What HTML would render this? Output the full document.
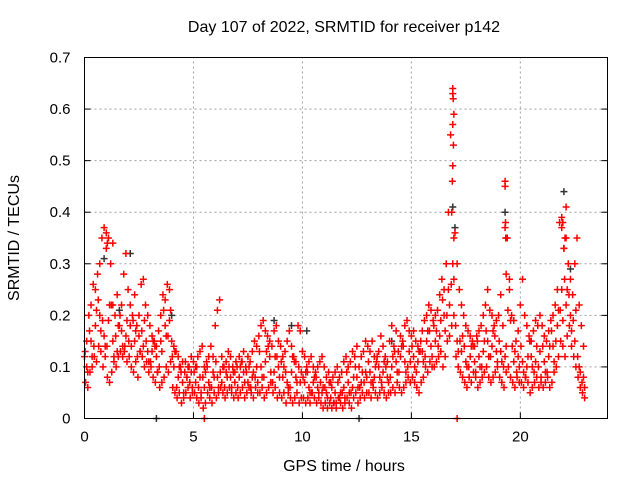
<!DOCTYPE html>
<html><head><meta charset="utf-8"><style>
body{margin:0;background:#fff}
svg text{font-family:"Liberation Sans",sans-serif;font-size:15px;fill:#000}
svg text.t{font-size:16px}
</style></head><body>
<svg id="chart" width="640" height="480" xmlns="http://www.w3.org/2000/svg">
<rect width="640" height="480" fill="#fff"/>
<text class="t" x="344" y="32" text-anchor="middle">Day 107 of 2022, SRMTID for receiver p142</text>
<text class="t" transform="translate(19,238) rotate(-90)" text-anchor="middle">SRMTID / TECUs</text>
<text class="t" x="344" y="471" text-anchor="middle">GPS time / hours</text>
<g id="grid"></g>
<g id="ticks"></g>
<g id="marks"></g>
<rect x="84.5" y="57.5" width="523" height="361" fill="none" stroke="#000" stroke-width="1"/>
</svg>
<script>
const xTicks=[0,5,10,15,20];
const yTicks=[0,0.1,0.2,0.3,0.4,0.5,0.6,0.7];
const yTickLabels=["0","0.1","0.2","0.3","0.4","0.5","0.6","0.7"];
const startHour=0, stepA=0.1, stepC=0.2;
const highVals=[.12,.15,.20,.22,.26,.25,.28,.30,.35,.37, .33,.35,.30,.22,.20,.24,.18,.22,.28,.32, .25,.22,.20,.24,.18,.20,.26,.27,.22,.20, .18,.16,.15,.14,.17,.20,.24,.23,.26,.25, .15,.14,.13,.12,.10,.11,.09,.08,.10,.12, .11,.10,.12,.13,.14,.10,.11,.12,.14,.12, .18,.21,.23,.12,.10,.11,.13,.12,.10,.09, .10,.12,.11,.13,.10,.12,.11,.13,.15,.14, .16,.18,.19,.17,.16,.15,.14,.17,.18,.15, .14,.12,.13,.15,.17,.14,.12,.11,.18,.17, .13,.12,.10,.11,.12,.10,.09,.10,.11,.12, .10,.08,.09,.07,.08,.09,.10,.08,.09,.11, .12,.10,.11,.13,.12,.14,.10,.12,.13,.15, .14,.13,.15,.12,.11,.13,.16,.14,.12,.11, .15,.18,.14,.17,.13,.16,.15,.18,.19,.17, .16,.17,.15,.14,.13,.17,.19,.20,.22,.21, .19,.20,.21,.24,.27,.25,.30,.40,.55,.64, .36,.30,.25,.22,.20,.18,.17,.16,.15,.14, .16,.17,.18,.20,.22,.25,.21,.20,.18,.19, .20,.24,.18,.46,.35,.27,.20,.19,.15,.17, .22,.27,.20,.18,.16,.15,.17,.19,.18,.20, .18,.16,.15,.17,.19,.20,.22,.25,.38,.37, .33,.35,.30,.27,.24,.30,.35,.22,.18,.14];
const lowVals=[.07,.06,.09,.10,.12,.11,.14,.13,.10,.12, .08,.07,.09,.11,.10,.12,.13,.12,.14,.11, .12,.10,.09,.11,.08,.13,.12,.10,.11,.09, .10,.08,.07,.09,.06,.07,.08,.10,.09,.11, .06,.05,.04,.05,.03,.04,.05,.06,.04,.05, .05,.04,.03,.04,.02,.03,.05,.04,.03,.05, .04,.05,.06,.05,.04,.05,.06,.05,.04,.05, .04,.05,.06,.04,.05,.06,.05,.04,.06,.05, .05,.06,.04,.05,.06,.07,.05,.06,.04,.05, .04,.05,.03,.05,.04,.03,.04,.05,.03,.04, .04,.03,.04,.03,.05,.04,.03,.04,.03,.02, .03,.02,.03,.02,.03,.02,.04,.03,.02,.03, .04,.03,.02,.04,.05,.03,.04,.05,.04,.05, .05,.04,.06,.05,.04,.05,.06,.05,.04,.05, .05,.06,.05,.07,.06,.05,.06,.07,.08,.07, .08,.07,.06,.05,.07,.08,.10,.09,.11,.10, .10,.11,.12,.13,.10,.12,.15,.16,.18,.20, .12,.10,.09,.08,.07,.06,.08,.07,.09,.08, .06,.07,.08,.09,.10,.08,.07,.08,.09,.10, .08,.07,.06,.09,.10,.08,.07,.06,.08,.07, .07,.06,.08,.07,.05,.06,.07,.08,.06,.07, .06,.07,.08,.06,.07,.09,.10,.12,.15,.14, .12,.16,.18,.14,.12,.10,.08,.06,.05,.04];
const midVals=[.10,.15,.18,.20,.16, .19,.15,.13,.17,.16, .18,.15,.16,.14,.13, .13,.12,.15,.18,.19, .10,.08,.07,.08,.09, .07,.08,.06,.07,.09, .08,.07,.09,.08,.07, .08,.09,.07,.08,.10, .10,.11,.12,.09,.10, .08,.07,.09,.08,.07, .07,.06,.07,.06,.05, .05,.04,.05,.04,.06, .07,.06,.08,.07,.09, .09,.08,.10,.09,.08, .10,.11,.12,.11,.13, .12,.11,.13,.15,.14, .15,.16,.20,.25,.30, .15,.13,.11,.12,.11, .12,.13,.15,.14,.13, .13,.12,.25,.11,.12, .11,.10,.12,.11,.13, .11,.12,.14,.18,.25, .22,.20,.15,.10,.08];
const mid2Vals=[.13,.17,.14,.23,.19, .14,.22,.16,.20,.13, .15,.19,.12,.17,.15, .11,.14,.10,.21,.16, .12,.06,.09,.11,.07, .09,.06,.08,.10,.06, .11,.09,.06,.10,.09, .06,.11,.09,.06,.08, .13,.08,.14,.07,.12, .11,.09,.06,.11,.10, .08,.09,.05,.08,.07, .06,.07,.03,.07,.05, .09,.05,.10,.06,.07, .11,.07,.12,.07,.10, .08,.13,.09,.14,.10, .14,.09,.15,.12,.17, .18,.14,.23,.20,.26, .18,.15,.14,.10,.14, .15,.10,.17,.12,.16, .15,.10,.21,.14,.09, .14,.08,.15,.09,.10, .14,.09,.17,.15,.21, .27,.24,.19,.12,.07];
const mid3Vals=[.09,.12,.21,.17,.14, .22,.12,.18,.14,.19, .14,.17,.13,.19,.11, .15,.09,.13,.16,.21, .13,.10,.05,.10,.06, .10,.05,.09,.06,.08, .06,.10,.08,.06,.11, .10,.07,.10,.09,.07, .08,.13,.09,.12,.08, .10,.06,.12,.07,.09, .09,.05,.08,.05,.06, .04,.06,.03,.05,.04, .05,.08,.06,.09,.08, .07,.10,.08,.11,.07, .12,.09,.14,.09,.11, .10,.13,.11,.17,.12, .17,.19,.17,.22,.27, .13,.16,.10,.14,.09, .10,.15,.12,.17,.11, .11,.14,.19,.13,.10, .09,.12,.10,.14,.08, .09,.14,.11,.21,.19, .25,.17,.21,.09,.06];
const spikeTimes=[16.9,16.92,16.95,16.9,16.93,16.9,16.88,16.85,16.95,19.3,19.32,19.3,19.33,19.35,21.9,21.95,22.0,22.05,22.1,1.0,1.05,1.3];
const spikeVals=[.63,.62,.59,.57,.53,.49,.46,.40,.35,.45,.38,.37,.35,.28,.39,.38,.33,.35,.41,.36,.34,.34];
const grayTimes=[0.9,1.6,2.1,3.3,4.0,8.7,9.5,12.6,16.9,17.0,19.3,22.0,22.3,10.2,14.1];
const grayVals=[.31,.21,.32,0,.20,.19,.18,0,.41,.37,.40,.44,.29,.17,.15];
const zeroTimes=[5.5,17.1];
const zeroVals=[0,0];

const X0=84.5,X1=607.5,Y0=418.5,Y1=57.5;
const xs=h=>X0+(h-0)/24*(X1-X0);
const ys=v=>Y0-(v-0)/0.7*(Y0-Y1);
const NS="http://www.w3.org/2000/svg";
const grid=document.getElementById('grid'),ticks=document.getElementById('ticks'),marks=document.getElementById('marks');
function mk(tag,attrs,parent){const e=document.createElementNS(NS,tag);for(const k in attrs)e.setAttribute(k,attrs[k]);parent.appendChild(e);return e;}
xTicks.forEach(t=>{const x=xs(t);
 if(t>0){const g=mk('line',{x1:x,y1:Y0,x2:x,y2:Y1,stroke:'#a0a0a0','stroke-dasharray':'2,3'},grid);
 
 }
 const tl=mk('line',{x1:x,y1:Y0,x2:x,y2:Y0-6,stroke:'#000'},ticks);
 
 
 const tx=mk('text',{x:x,y:Y0+23,'text-anchor':'middle'},ticks);tx.textContent=t;
 
 
});
yTicks.forEach((t,i)=>{const y=ys(t);
 if(i>0&&i<yTicks.length-1){const g=mk('line',{x1:X0,y1:y,x2:X1,y2:y,stroke:'#a0a0a0','stroke-dasharray':'2,3'},grid);
 
 }
 const tl=mk('line',{x1:X0,y1:y,x2:X0+6,y2:y,stroke:'#000'},ticks);
 
 
 const tl2=mk('line',{x1:X1,y1:y,x2:X1-6,y2:y,stroke:'#000'},ticks);
 
 
 const tx=mk('text',{x:X0-14,y:y+5,'text-anchor':'end'},ticks);tx.textContent=yTickLabels[i];
 
 
});
function plus(h,v,color){const x=xs(h),y=ys(v);
 const p=mk('path',{d:`M${x-3.5},${y}H${x+3.5}M${x},${y-3.5}V${y+3.5}`,stroke:color,'stroke-width':1.5,fill:'none'},marks);
 
 }
grayTimes.forEach((t,i)=>plus(t,grayVals[i],'#333'));
highVals.forEach((v,i)=>plus(startHour+i*stepA,v,'#f00'));
lowVals.forEach((v,i)=>plus(startHour+i*stepA+0.05,v,'#f00'));
midVals.forEach((v,i)=>plus(startHour+i*stepC+0.1,v,'#f00'));
mid2Vals.forEach((v,i)=>plus(startHour+i*stepC+0.03,v,'#f00'));
mid3Vals.forEach((v,i)=>plus(startHour+i*stepC+0.15,v,'#f00'));
spikeTimes.forEach((t,i)=>plus(t,spikeVals[i],'#f00'));
zeroTimes.forEach((t,i)=>plus(t,zeroVals[i],'#f00'));
</script>
</body></html>
